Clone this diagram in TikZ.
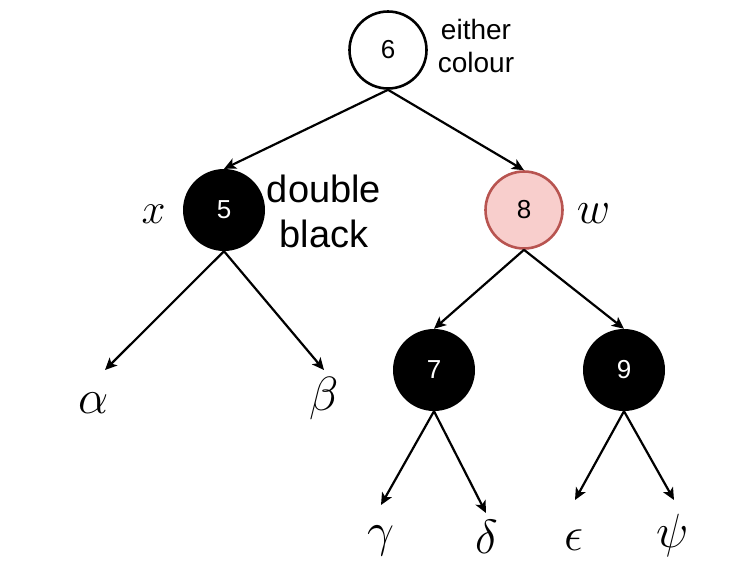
\RequirePackage{fix-cm}
\documentclass[tikz,border=0pt]{standalone}
\usepackage{fontspec}
\setmainfont{Liberation Sans}
\usetikzlibrary{arrows.meta}

\begin{document}
\begin{tikzpicture}[x=1pt,y=-1pt]
  \tikzstyle{rbnode}=[circle,inner sep=0pt,font=\fontsize{26}{30}\selectfont]
  \tikzstyle{open}=[rbnode,draw,minimum size=77pt,line width=2.6pt]
  \tikzstyle{blk}=[rbnode,fill=black,text=white,minimum size=82pt]
  \tikzstyle{edge}=[line width=2.2pt,-{Stealth[length=12pt,width=11pt,inset=3pt]}]
  \tikzstyle{greek}=[anchor=base,inner sep=0pt,font=\fontsize{48}{48}\selectfont]
  \definecolor{redfill}{HTML}{F8CECC}
  \definecolor{redline}{HTML}{B85450}
  \useasboundingbox (0,0) rectangle (746,574);
  \node[open] (n6) at (388,50) {6};
  \node[blk] (n5) at (224,210) {5};
  \node[open,fill=redfill,draw=redline] (n8) at (524,210) {8};
  \node[blk] (n7) at (434,370) {7};
  \node[blk] (n9) at (624,370) {9};
  \node[align=center,font=\fontsize{28}{33}\selectfont] (either) at (476,46) {either\\colour};
  \node[align=center,font=\fontsize{38}{45}\selectfont] (dblack) at (324,211) {double\\black};
  \node[greek,font=\fontsize{43}{43}\selectfont] (lx) at (153.5,223) {$x$};
  \node[greek,font=\fontsize{46}{46}\selectfont] (lw) at (593.5,223) {$w$};
  % subtrees
  \node[greek] (alpha) at (94,413) {$\alpha$};
  \node[greek] (beta) at (324,410) {$\beta$};
  \node[greek] (gamma) at (381,546) {$\gamma$};
  \node[greek] (delta) at (487,553) {$\delta$};
  \node[greek] (eps) at (574,550) {$\epsilon$};
  \node[greek] (psi) at (673,547) {$\psi$};
  \coordinate (ta) at (105,370);
  \coordinate (tb) at (324,370);
  \coordinate (tg) at (381,505);
  \coordinate (td) at (486,513);
  \coordinate (te) at (575,500);
  \coordinate (tp) at (674,500);
  \draw[edge] (n6.south) -- (n5.north);
  \draw[edge] (n6.south) -- (n8.north);
  \draw[edge] (n5.south) -- (ta);
  \draw[edge] (n5.south) -- (tb);
  \draw[edge] (n8.south) -- (n7.north);
  \draw[edge] (n8.south) -- (n9.north);
  \draw[edge] (n7.south) -- (tg);
  \draw[edge] (n7.south) -- (td);
  \draw[edge] (n9.south) -- (te);
  \draw[edge] (n9.south) -- (tp);
\end{tikzpicture}
\end{document}
